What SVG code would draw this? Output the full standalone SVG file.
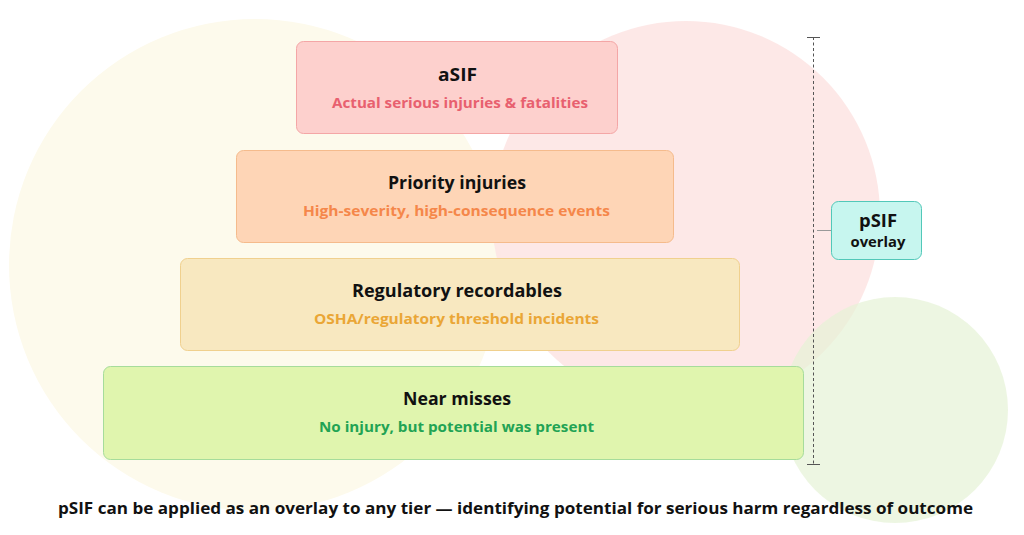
<svg xmlns="http://www.w3.org/2000/svg" width="1024" height="535" viewBox="0 0 1024 535">
<style>
text{font-family:"Open Sans",Lato,"Liberation Sans",sans-serif;text-anchor:middle}
.t{font-size:18px;font-weight:700;fill:#111}
.s{font-size:15px;font-weight:700}
.box{stroke-width:1}
</style>
<rect width="1024" height="535" fill="#fff"/>
<g id="background">
<circle cx="255" cy="265" r="246" fill="#fdfaec"/>
<circle cx="686" cy="215" r="194" fill="#fde6e4" fill-opacity="0.9"/>
<circle cx="895" cy="410" r="113" fill="#e6f2d6" fill-opacity="0.7"/>
</g>
<g id="connectors" stroke="#555" stroke-width="1">
<line x1="813.5" y1="37" x2="813.5" y2="464" stroke-dasharray="3,2.5"/>
<line x1="807" y1="37.5" x2="820" y2="37.5"/>
<line x1="807" y1="464.5" x2="820" y2="464.5"/>
<line x1="817" y1="230.5" x2="831" y2="230.5" stroke="#999"/>
</g>
<g id="asif">
<rect class="box" x="296.5" y="41.5" width="321" height="92" rx="7" fill="#fdd0cd" stroke="#f4a6a6"/>
<text class="t" x="457.5" y="81" textLength="39" lengthAdjust="spacingAndGlyphs">aSIF</text>
<text class="s" x="460" y="108" fill="#e8606f" textLength="256" lengthAdjust="spacingAndGlyphs">Actual serious injuries &amp; fatalities</text>
</g>
<g id="priority">
<rect class="box" x="236.5" y="150.5" width="437" height="92" rx="7" fill="#fed5b6" stroke="#f5bb8c"/>
<text class="t" x="457" y="189" textLength="138" lengthAdjust="spacingAndGlyphs">Priority injuries</text>
<text class="s" x="456.5" y="216" fill="#f5874a" textLength="307" lengthAdjust="spacingAndGlyphs">High-severity, high-consequence events</text>
</g>
<g id="regulatory">
<rect class="box" x="180.5" y="258.5" width="559" height="92" rx="7" fill="#f8e8c0" stroke="#f0d08e"/>
<text class="t" x="457" y="297" textLength="210" lengthAdjust="spacingAndGlyphs">Regulatory recordables</text>
<text class="s" x="456.5" y="324" fill="#eaa636" textLength="285" lengthAdjust="spacingAndGlyphs">OSHA/regulatory threshold incidents</text>
</g>
<g id="near">
<rect class="box" x="103.5" y="366.5" width="700" height="93" rx="7" fill="#e0f5ae" stroke="#a6dc9b"/>
<text class="t" x="457" y="405" textLength="108" lengthAdjust="spacingAndGlyphs">Near misses</text>
<text class="s" x="456.5" y="432" fill="#22a354" textLength="275" lengthAdjust="spacingAndGlyphs">No injury, but potential was present</text>
</g>
<g id="psif">
<rect class="box" x="831.5" y="201.5" width="90" height="58" rx="7" fill="#c7f6ef" stroke="#52c8b9"/>
<text x="878" y="226.5" style="font-size:17px;font-weight:700;fill:#111" textLength="38" lengthAdjust="spacingAndGlyphs">pSIF</text>
<text x="878" y="247" style="font-size:14px;font-weight:700;fill:#111" textLength="55" lengthAdjust="spacingAndGlyphs">overlay</text>
</g>
<text x="515.5" y="514" style="font-size:16px;font-weight:700;fill:#111" textLength="915" lengthAdjust="spacingAndGlyphs">pSIF can be applied as an overlay to any tier — identifying potential for serious harm regardless of outcome</text>
</svg>
